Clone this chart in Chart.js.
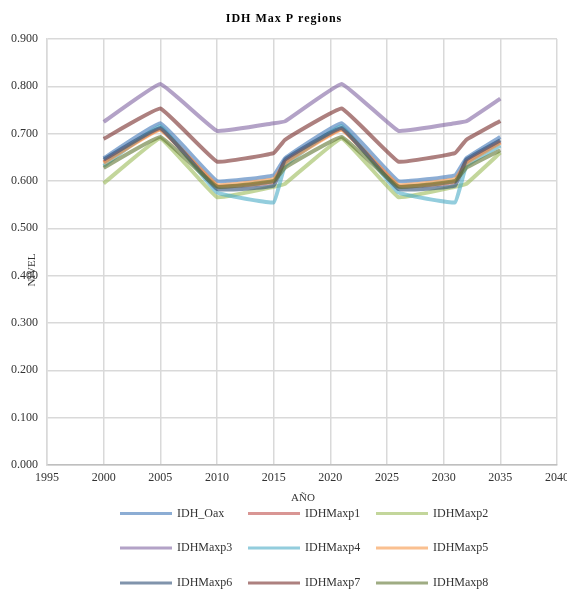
<!DOCTYPE html>
<html>
<head>
<meta charset="utf-8">
<script src="https://cdn.jsdelivr.net/npm/chart.js@4/dist/chart.umd.min.js"></script>
<style>
  html, body { margin: 0; padding: 0; background: #ffffff; }
  #wrap { position: relative; width: 567px; height: 593px; }
</style>
</head>
<body>
<div id="wrap"><canvas id="chart" width="567" height="593"></canvas></div>
<script>
// Years at which each region's index is given
const years = [2000, 2005, 2010, 2015, 2016, 2021, 2026, 2031, 2032, 2035];

// Index level per series
const idhOax   = [0.648, 0.722, 0.600, 0.612, 0.648, 0.722, 0.600, 0.612, 0.648, 0.693];
const idhMaxp1 = [0.640, 0.710, 0.589, 0.598, 0.640, 0.710, 0.589, 0.598, 0.640, 0.683];
const idhMaxp2 = [0.595, 0.690, 0.566, 0.588, 0.594, 0.690, 0.566, 0.588, 0.594, 0.660];
const idhMaxp3 = [0.725, 0.805, 0.706, 0.722, 0.726, 0.805, 0.706, 0.722, 0.726, 0.774];
const idhMaxp4 = [0.632, 0.716, 0.576, 0.555, 0.632, 0.716, 0.576, 0.555, 0.632, 0.675];
const idhMaxp5 = [0.638, 0.708, 0.592, 0.604, 0.638, 0.708, 0.592, 0.604, 0.638, 0.681];
const idhMaxp6 = [0.645, 0.712, 0.583, 0.590, 0.645, 0.712, 0.583, 0.590, 0.645, 0.686];
const idhMaxp7 = [0.689, 0.753, 0.641, 0.659, 0.687, 0.753, 0.641, 0.659, 0.687, 0.727];
const idhMaxp8 = [0.628, 0.693, 0.588, 0.600, 0.628, 0.693, 0.588, 0.600, 0.628, 0.665];

const seriesNames = ['IDH_Oax', 'IDHMaxp1', 'IDHMaxp2', 'IDHMaxp3', 'IDHMaxp4',
                     'IDHMaxp5', 'IDHMaxp6', 'IDHMaxp7', 'IDHMaxp8'];
const seriesValues = [idhOax, idhMaxp1, idhMaxp2, idhMaxp3, idhMaxp4,
                      idhMaxp5, idhMaxp6, idhMaxp7, idhMaxp8];
const seriesColors = [
  'rgba(79,129,189,0.65)', 'rgba(192,80,77,0.6)', 'rgba(155,187,89,0.6)',
  'rgba(128,100,162,0.6)', 'rgba(75,172,198,0.6)', 'rgba(247,150,70,0.6)',
  'rgba(44,77,117,0.6)', 'rgba(119,44,42,0.6)', 'rgba(95,117,48,0.6)'
];

const xTicks = [1995, 2000, 2005, 2010, 2015, 2020, 2025, 2030, 2035, 2040];

const SERIF = '"Liberation Serif", "DejaVu Serif", serif';
const TEXT = '#333333';

const datasets = seriesNames.map((name, i) => ({
  label: name,
  data: years.map((yr, k) => ({ x: yr, y: seriesValues[i][k] })),
  borderColor: seriesColors[i],
  backgroundColor: seriesColors[i],
  borderWidth: 4,
  pointRadius: 0,
  tension: 0.08,
  fill: false,
  order: seriesNames.length - i
}));

// Title, axis titles and a three-column legend drawn on the canvas
const decorations = {
  id: 'decorations',
  afterDraw(chart) {
    const ctx = chart.ctx;
    ctx.save();
    ctx.fillStyle = '#000000';
    ctx.font = 'bold 12px ' + SERIF;
    ctx.textAlign = 'center';
    ctx.textBaseline = 'middle';
    if ('letterSpacing' in ctx) ctx.letterSpacing = '1px';
    ctx.fillText('IDH Max P regions', 284, 19);
    if ('letterSpacing' in ctx) ctx.letterSpacing = '0px';

    ctx.fillStyle = TEXT;
    ctx.font = '11px ' + SERIF;
    ctx.fillText('AÑO', 303, 498);

    ctx.save();
    ctx.translate(32, 270);
    ctx.rotate(-Math.PI / 2);
    ctx.fillText('NIVEL', 0, 0);
    ctx.restore();

    const colX = [120, 248, 376];
    const rowY = [513.5, 548, 583];
    ctx.font = '12px ' + SERIF;
    ctx.textAlign = 'left';
    chart.data.datasets.forEach((ds, i) => {
      const cx = colX[i % 3];
      const cy = rowY[Math.floor(i / 3)];
      ctx.strokeStyle = ds.borderColor;
      ctx.lineWidth = 3;
      ctx.beginPath();
      ctx.moveTo(cx, cy);
      ctx.lineTo(cx + 52, cy);
      ctx.stroke();
      ctx.fillStyle = TEXT;
      ctx.fillText(ds.label, cx + 57, cy);
    });
    ctx.restore();
  }
};

new Chart(document.getElementById('chart'), {
  type: 'line',
  data: { datasets },
  plugins: [decorations],
  options: {
    responsive: false,
    animation: false,
    events: [],
    layout: { padding: { left: 0, right: 10, top: 39, bottom: 108 } },
    plugins: {
      legend: { display: false },
      title: { display: false },
      tooltip: { enabled: false }
    },
    scales: {
      x: {
        type: 'linear',
        min: 1995,
        max: 2040,
        afterBuildTicks(scale) {
          scale.ticks = xTicks.map(v => ({ value: v }));
        },
        afterFit(scale) {
          scale.height = 20;
          scale.paddingLeft = 0;
          scale.paddingRight = 0;
        },
        grid: { color: '#d9d9d9', lineWidth: 1.5, drawTicks: false },
        border: { color: '#bfbfbf', width: 1.5 },
        ticks: {
          padding: 6,
          maxRotation: 0,
          autoSkip: false,
          color: TEXT,
          font: { family: SERIF, size: 12 },
          callback: v => String(v)
        }
      },
      y: {
        min: 0,
        max: 0.9,
        afterFit(scale) {
          scale.width = 47;
          scale.paddingTop = 0;
          scale.paddingBottom = 0;
        },
        grid: { color: '#d9d9d9', lineWidth: 1.5, drawTicks: false },
        border: { color: '#d9d9d9', width: 1.5 },
        ticks: {
          stepSize: 0.1,
          padding: 9,
          color: TEXT,
          font: { family: SERIF, size: 12 },
          callback: v => Number(v).toFixed(3)
        }
      }
    }
  }
});
</script>
</body>
</html>
